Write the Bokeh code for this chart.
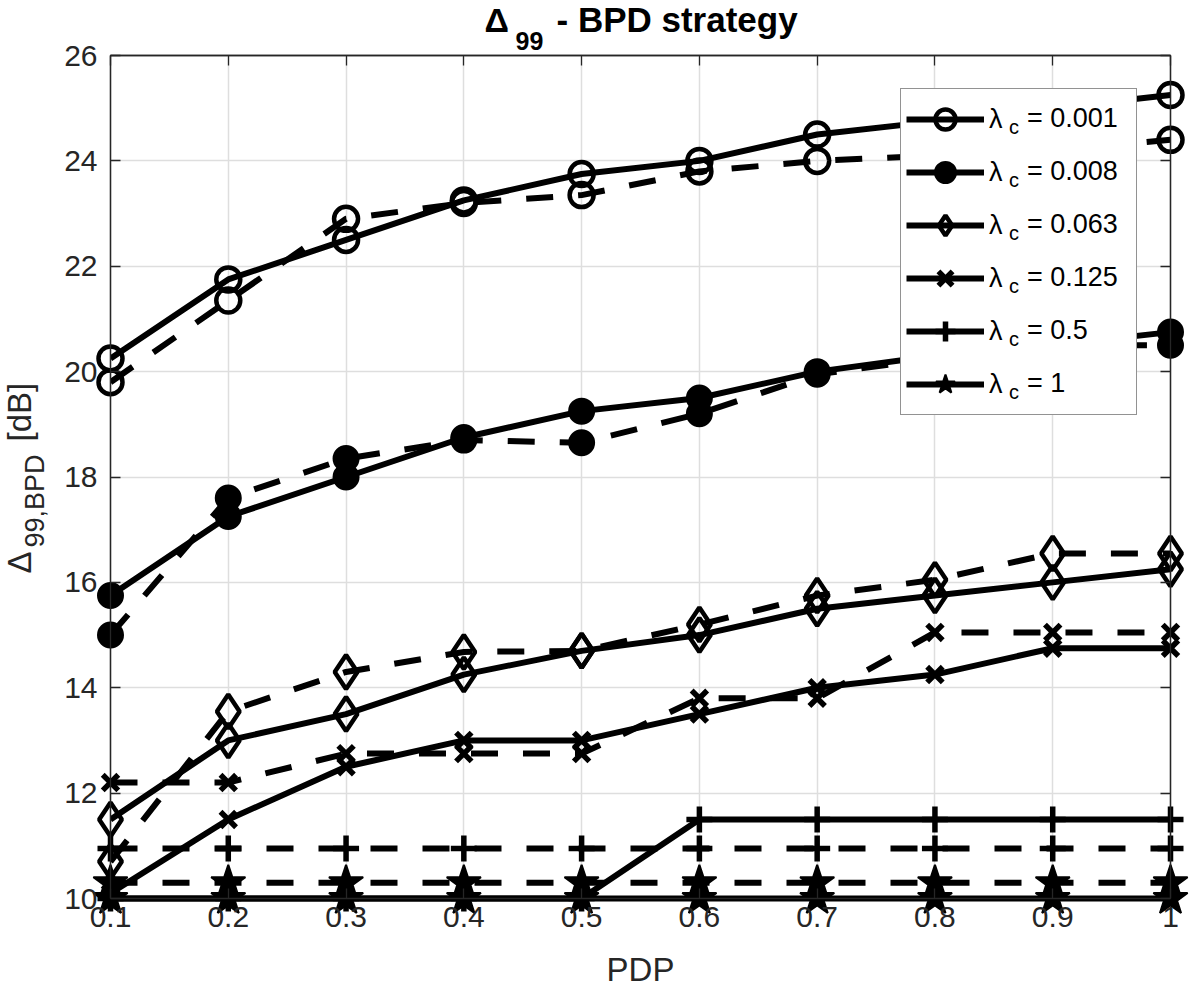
import math
from bokeh.plotting import figure
from bokeh.models import (Range1d, LinearAxis, Legend, LegendItem,
                          FixedTicker, CustomJSTickFormatter)
from bokeh.core.properties import value
from bokeh.embed import file_html
from bokeh.resources import INLINE

# ---------------- data ----------------
pdp = [0.1, 0.2, 0.3, 0.4, 0.5, 0.6, 0.7, 0.8, 0.9, 1.0]
x_ticks = [0.1, 0.2, 0.3, 0.4, 0.5, 0.6, 0.7, 0.8, 0.9, 1.0]
y_ticks = [10, 12, 14, 16, 18, 20, 22, 24, 26]
lambda_c = ["0.001", "0.008", "0.063", "0.125", "0.5", "1"]

solid_0001 = [20.25, 21.75, 22.5, 23.25, 23.75, 24.0, 24.5, 24.75, 25.0, 25.25]
dashed_0001 = [19.8, 21.35, 22.9, 23.2, 23.35, 23.8, 24.0, 24.1, 24.2, 24.4]
solid_0008 = [15.75, 17.25, 18.0, 18.75, 19.25, 19.5, 20.0, 20.3, 20.5, 20.75]
dashed_0008 = [15.0, 17.6, 18.35, 18.7, 18.65, 19.2, 19.95, 20.25, 20.5, 20.5]
solid_0063 = [11.5, 13.0, 13.5, 14.25, 14.7, 15.0, 15.5, 15.75, 16.0, 16.25]
dashed_0063 = [10.7, 13.55, 14.3, 14.68, 14.7, 15.2, 15.75, 16.05, 16.55, 16.55]
solid_0125 = [10.1, 11.5, 12.5, 13.0, 13.0, 13.5, 14.0, 14.25, 14.75, 14.75]
dashed_0125 = [12.2, 12.2, 12.75, 12.75, 12.75, 13.8, 13.8, 15.05, 15.05, 15.05]
solid_05 = [10.0, 10.0, 10.0, 10.0, 10.0, 11.5, 11.5, 11.5, 11.5, 11.5]
dashed_05 = [10.95, 10.95, 10.95, 10.95, 10.95, 10.95, 10.95, 10.95, 10.95, 10.95]
solid_1 = [10.0, 10.0, 10.0, 10.0, 10.0, 10.0, 10.0, 10.0, 10.0, 10.0]
dashed_1 = [10.3, 10.3, 10.3, 10.3, 10.3, 10.3, 10.3, 10.3, 10.3, 10.3]

solid_series = [solid_0001, solid_0008, solid_0063, solid_0125, solid_05, solid_1]
dashed_series = [dashed_0001, dashed_0008, dashed_0063, dashed_0125, dashed_05, dashed_1]

# ---------------- styles ----------------
markers = [
    dict(marker="circle", size=24, fill_alpha=0.0, line_width=4.5),
    dict(marker="circle", size=24, fill_color="black", fill_alpha=1.0, line_width=3),
    dict(marker="diamond", size=34, fill_alpha=0.0, line_width=4.5),
    dict(marker="x", size=22, fill_alpha=0.0, line_width=5.5),
    dict(marker="cross", size=26, fill_alpha=0.0, line_width=5.5),
    dict(marker="star", size=36, fill_color="black", fill_alpha=1.0, line_width=2),
]
unclipped_line = [False, False, False, False, True, True]

FONT = "Liberation Sans"
TXT = "#262626"
W, H = 1190, 994
FL, FR, FT, FB = 110, 1170, 55, 898   # frame edges (pixels)
X0, X1, Y0, Y1 = 0.1, 1.0, 10, 26
K = 0.37   # empirical baseline correction of the text glyph

p = figure(width=W, height=H, output_backend="svg", toolbar_location=None,
           x_range=Range1d(X0, X1), y_range=Range1d(Y0, Y1),
           min_border_left=FL, min_border_right=W - FR,
           min_border_top=FT, min_border_bottom=H - FB,
           background_fill_color="white", border_fill_color="white")

# pixel -> data helpers (for placing text annotations)
def xd(px):
    return X0 + (px - FL) / (FR - FL) * (X1 - X0)

def yd(py):
    return Y1 - (py - FT) / (FB - FT) * (Y1 - Y0)

def txt(px, py, s, size, bold=False, rotated=False, align="left", color="black",
        level="overlay"):
    if rotated:
        px, ang = px - K * size, math.pi / 2
    else:
        py, ang = py - K * size, 0.0
    p.text(x=[xd(px)], y=[yd(py)], text=[s], text_font=value(FONT),
           text_font_size=value(f"{size}px"),
           text_font_style="bold" if bold else "normal",
           angle=ang, text_align=align, text_baseline="alphabetic",
           text_color=color, level=level)

# axes
for ax in (p.xaxis[0], p.yaxis[0]):
    ax.major_tick_in = 10
    ax.major_tick_out = 0
    ax.minor_tick_line_color = None
    ax.axis_line_color = TXT
    ax.axis_line_width = 1.3
    ax.major_tick_line_color = TXT
    ax.major_tick_line_width = 1.3
    ax.major_label_text_font = FONT
    ax.major_label_text_font_size = "30px"
    ax.major_label_text_color = TXT
p.xaxis.ticker = FixedTicker(ticks=x_ticks)
p.xaxis.formatter = CustomJSTickFormatter(code="return tick > 0.999 ? '1' : tick.toFixed(1)")
p.xaxis.major_label_standoff = 8
p.yaxis.ticker = FixedTicker(ticks=y_ticks)
p.yaxis.major_label_standoff = 13

for loc, tk in (("right", y_ticks), ("above", x_ticks)):
    ax = LinearAxis(ticker=FixedTicker(ticks=tk), major_label_text_font_size="1px",
                    major_label_text_color=None,
                    major_label_standoff=0, major_tick_in=10, major_tick_out=0,
                    minor_tick_line_color=None, axis_line_color=TXT, axis_line_width=1.3,
                    major_tick_line_color=TXT, major_tick_line_width=1.3)
    p.add_layout(ax, loc)

p.xgrid.ticker = FixedTicker(ticks=x_ticks)
p.ygrid.ticker = FixedTicker(ticks=y_ticks)
for g in (p.xgrid[0], p.ygrid[0]):
    g.grid_line_color = "#dedede"
    g.grid_line_width = 1.5
p.outline_line_color = TXT
p.outline_line_width = 1.3

# ---------------- data glyphs ----------------
items, sub_items, val_items = [], [], []
for i in range(6):
    mk = markers[i]
    lvl = "guide" if unclipped_line[i] else "glyph"
    rs = p.line(pdp, solid_series[i], line_color="black", line_width=6, level=lvl)
    ms = p.scatter(pdp, solid_series[i], line_color="black", level="guide", **mk)
    p.line(pdp, dashed_series[i], line_color="black", line_width=6,
           line_dash="27 25", level=lvl)
    p.scatter(pdp, dashed_series[i], line_color="black", level="guide", **mk)
    items.append(LegendItem(label="\u03bb", renderers=[rs, ms]))
    sub_items.append(LegendItem(label="c", renderers=[rs]))
    val_items.append(LegendItem(label="= " + lambda_c[i], renderers=[rs]))

# main legend box: glyphs + "λ"
LEG_TOP, PAD, ROW, GAP = 88, 5, 50, 3
legend = Legend(items=items, location="top_right", margin=33, padding=PAD, spacing=GAP,
                glyph_width=78, glyph_height=ROW, label_height=ROW, label_width=142,
                label_standoff=5, label_text_font=FONT, label_text_font_size="27px",
                label_text_color="black", border_line_color=TXT, border_line_width=1.5,
                background_fill_color="white", background_fill_alpha=1.0)
p.add_layout(legend)

rows_h = 6 * ROW + 5 * GAP

def overlay_legend(its, left_px, top_px, size, width):
    return Legend(items=its, location=(left_px - FL, FB - (top_px + rows_h)),
                  margin=0, padding=0, spacing=GAP, glyph_width=0, glyph_height=ROW,
                  label_height=ROW, label_width=width, label_standoff=0,
                  label_text_font=FONT, label_text_font_size=f"{size}px",
                  label_text_color="black", border_line_color=None,
                  background_fill_alpha=0.0)

# subscript "c" and the "= value" part of every legend label
p.add_layout(overlay_legend(sub_items, 1009, 102, 20, 14))
p.add_layout(overlay_legend(val_items, 1027, LEG_TOP + PAD, 27, 100))

# ---------------- title ----------------
txt(484, 32, "\u0394", 34, bold=True)
txt(515, 50, "99", 25, bold=True)
txt(556, 32, "- BPD strategy", 35, bold=True)

# ---------------- axis labels ----------------
txt(640, 981, "PDP", 33, align="center", color=TXT)
txt(31, 573, "\u0394", 33, rotated=True, color=TXT)
txt(44, 547, "99,BPD", 27, rotated=True, color=TXT)
txt(31, 441, "[dB]", 33, rotated=True, color=TXT)

open("out.html", "w").write(file_html(p, INLINE))
